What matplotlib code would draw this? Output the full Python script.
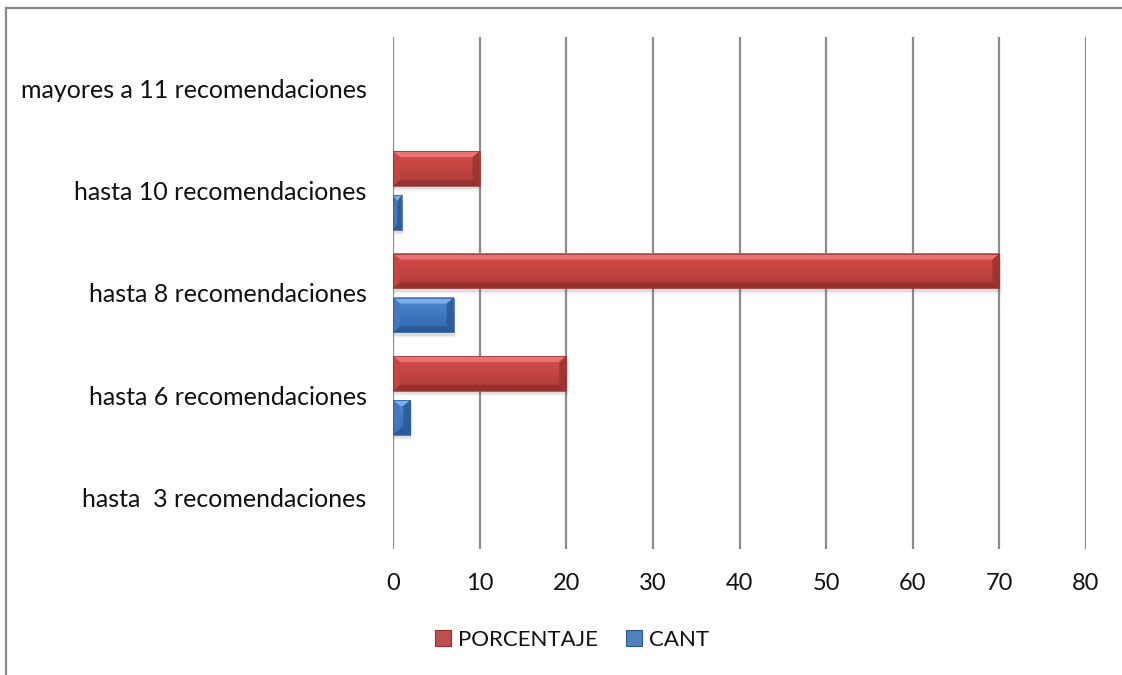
import numpy as np
import matplotlib
matplotlib.use("Agg")
import matplotlib.pyplot as plt
from matplotlib.patches import Polygon, Rectangle, Patch
from matplotlib.colors import LinearSegmentedColormap

# Data
categories = [
    "hasta  3 recomendaciones",
    "hasta 6 recomendaciones",
    "hasta 8 recomendaciones",
    "hasta 10 recomendaciones",
    "mayores a 11 recomendaciones",
]
porcentaje = [0, 20, 70, 10, 0]
cant = [0, 2, 7, 1, 0]
series_names = ["PORCENTAJE", "CANT"]
x_ticks = [0, 10, 20, 30, 40, 50, 60, 70, 80]

plt.rcParams["font.family"] = ["Lato", "DejaVu Sans"]

W, H = 1122, 675
fig = plt.figure(figsize=(W / 100, H / 100), dpi=100)
fig.patch.set_facecolor("white")

# chart frame (only top and left edges fall inside the canvas)
fig.add_artist(plt.Line2D([6 / W, 6 / W], [0, 1 - 8 / H], transform=fig.transFigure,
                          color="#8a8a8a", lw=1.6))
fig.add_artist(plt.Line2D([6 / W, 1], [1 - 8 / H, 1 - 8 / H], transform=fig.transFigure,
                          color="#8a8a8a", lw=1.6))

left, right, top, bottom = 393, 1086, 37, 549
ax = fig.add_axes([left / W, 1 - bottom / H, (right - left) / W, (bottom - top) / H])
ax.set_xlim(0, 80)
ax.set_ylim(-0.5, len(categories) - 0.5)

for s in ax.spines.values():
    s.set_visible(False)
ax.set_xticks(x_ticks)
ax.set_xticklabels([str(t) for t in x_ticks], fontsize=17, color="#111111")
ax.set_yticks(range(len(categories)))
ax.set_yticklabels(categories, fontsize=18, color="#111111")
ax.tick_params(axis="both", length=0)
ax.tick_params(axis="x", pad=17)
ax.tick_params(axis="y", pad=19)
ax.grid(axis="x", color="#8c8c8c", lw=1.6, zorder=0)
ax.set_axisbelow(True)

y = np.arange(len(categories))
h = 0.34
off = 0.215
styles = {
    "PORCENTAJE": dict(top="#ee7a77", face_top="#d84f4b", face_bot="#ad3b38",
                       bot="#93302d", left="#c94641", right="#9a3330", mid="#c0504d"),
    "CANT": dict(top="#7fb6ee", face_top="#4f8cd4", face_bot="#3265ab",
                 bot="#295896", left="#427bc3", right="#2b5a96", mid="#4f81bd"),
}

bars_p = ax.barh(y + off, porcentaje, height=h, color=styles["PORCENTAJE"]["mid"], zorder=3)
bars_c = ax.barh(y - off, cant, height=h, color=styles["CANT"]["mid"], zorder=3)

# data units per pixel
ux = 80 / (right - left)
uy = len(categories) / (bottom - top)


def bevel(patch, st):
    x0, y0 = patch.get_x(), patch.get_y()
    w, hh = patch.get_width(), patch.get_height()
    if w <= 0:
        return
    x1, y1 = x0 + w, y0 + hh
    # soft shadow beneath the bar
    for k, a in enumerate([0.10, 0.07, 0.04]):
        e = (k + 1) * 1.2
        ax.add_patch(Rectangle((x0 + 1 * ux - e * ux * 0.3, y0 - (2 + e) * uy),
                               w + e * ux * 0.6, hh, color="#606060", alpha=a,
                               lw=0, zorder=2))
    bx = min(7 * ux, w / 2)
    by = min(6 * uy, hh / 2)
    # face gradient
    cmap = LinearSegmentedColormap.from_list("g", [st["face_bot"], st["face_top"]])
    grad = np.linspace(0, 1, 64).reshape(-1, 1)
    ax.imshow(grad, cmap=cmap, origin="lower", aspect="auto",
              extent=(x0, x1, y0, y1), zorder=4, interpolation="bilinear")
    polys = [
        ([(x0, y1), (x1, y1), (x1 - bx, y1 - by), (x0 + bx, y1 - by)], st["top"]),
        ([(x0, y0), (x1, y0), (x1 - bx, y0 + by), (x0 + bx, y0 + by)], st["bot"]),
        ([(x0, y0), (x0, y1), (x0 + bx, y1 - by), (x0 + bx, y0 + by)], st["left"]),
        ([(x1, y0), (x1, y1), (x1 - bx, y1 - by), (x1 - bx, y0 + by)], st["right"]),
    ]
    for pts, c in polys:
        ax.add_patch(Polygon(pts, closed=True, facecolor=c, edgecolor="none",
                             zorder=5, alpha=0.85))
    ax.add_patch(Rectangle((x0, y0), w, hh, fill=False, edgecolor=st["bot"],
                           lw=0.5, zorder=6))


for p in bars_p:
    bevel(p, styles["PORCENTAJE"])
for p in bars_c:
    bevel(p, styles["CANT"])

ax.set_xlim(0, 80)
ax.set_ylim(-0.5, len(categories) - 0.5)

handles = [Patch(facecolor=styles[n]["mid"], edgecolor=styles[n]["bot"], lw=0.8)
           for n in series_names]
fig.legend(handles, series_names, loc="center", bbox_to_anchor=(572 / W, 1 - 640 / H),
           ncol=2, frameon=False, fontsize=16, handlelength=0.7, handleheight=0.7,
           handletextpad=0.3, columnspacing=1.3, labelcolor="#111111")

fig.savefig("out.png", dpi=100, facecolor="white")
